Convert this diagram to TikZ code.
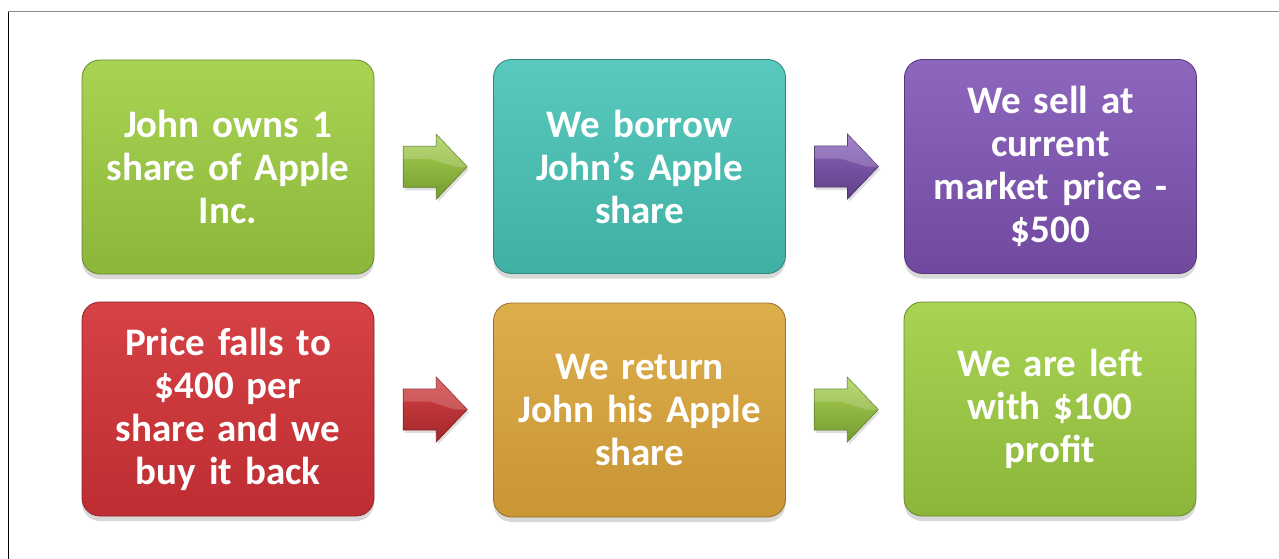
\documentclass[tikz,border=0pt]{standalone}
\usepackage{fontspec}
\setmainfont{Carlito}
\usetikzlibrary{shadows,calc}
\definecolor{gTop}{HTML}{A9D352}
\definecolor{gBot}{HTML}{8BB63A}
\definecolor{tTop}{HTML}{58C9BC}
\definecolor{tBot}{HTML}{3FB0A3}
\definecolor{pTop}{HTML}{8D67BE}
\definecolor{pBot}{HTML}{70499F}
\definecolor{rTop}{HTML}{D64245}
\definecolor{rBot}{HTML}{BD2D31}
\definecolor{oTop}{HTML}{DDAE4C}
\definecolor{oBot}{HTML}{C99535}
\tikzset{
  stepbox/.style={rounded corners=18pt, minimum width=292pt, minimum height=214pt,
    text width=280pt, align=center, inner sep=0pt,
    font=\fontsize{39}{43}\selectfont\bfseries, text=white,
    drop shadow={opacity=0.3, shadow xshift=0pt, shadow yshift=-5pt},
    top color=#1Top, bottom color=#1Bot, draw=#1Bot!75!black, line width=0.8pt},
  arrowfill/.style={top color=#1Top, bottom color=#1Bot!85!black,
    draw=#1Bot!70!black, line width=0.6pt, line join=miter,
    drop shadow={opacity=0.25, shadow xshift=1.5pt, shadow yshift=-3pt}},
  pics/flowarrow/.style={code={
    \path[arrowfill=#1] (-32,-20.5) -- (1,-20.5) -- (1,-32.5) -- (32,0)
      -- (1,32.5) -- (1,20.5) -- (-32,20.5) -- cycle;
    \fill[white,opacity=0.18] (-32,-20.5) -- (1,-20.5) -- (1,-32.5) -- (32,0)
      -- (20,0) -- (-6,-8) -- (-32,-8) -- cycle;
  }},
}
\begin{document}
\begin{tikzpicture}[x=1pt,y=-1pt]
\useasboundingbox (0,0) rectangle (1279,559);
\fill[white] (0,0) rectangle (1279,559);
\coordinate (fc) at (8,12);
\coordinate (ftr) at (1279,12);
\coordinate (fbl) at (8,559);
\draw[black!45, line width=1pt] (fc) -- (ftr);
\draw[black, line width=1pt] (fc) -- (fbl);

\node[stepbox=g] (b1) at (228,167) {John owns 1\\share of Apple\\Inc.};
\node[stepbox=t] (b2) at (639.5,166.5) {We borrow\\John's Apple\\share};
\node[stepbox=p] (b3) at (1050.5,166.5) {We sell at\\current\\market price -\\\$500};
\node[stepbox=r] (b4) at (228,409) {Price falls to\\\$400 per\\share and we\\buy it back};
\node[stepbox=o] (b5) at (639.5,410) {We return\\John his Apple\\share};
\node[stepbox=g] (b6) at (1050,409) {We are left\\with \$100\\profit};

\coordinate (a1) at ($(b1.east)!0.5!(b2.west)+(1.5,0)$);
\coordinate (a2) at ($(b2.east)!0.5!(b3.west)+(1.5,0)$);
\coordinate (a3) at ($(b4.east)!0.5!(b5.west)+(1.5,0)$);
\coordinate (a4) at ($(b5.east)!0.5!(b6.west)+(1.5,0)$);
\pic at (a1) {flowarrow=g};
\pic at (a2) {flowarrow=p};
\pic at (a3) {flowarrow=r};
\pic at (a4) {flowarrow=g};
\end{tikzpicture}
\end{document}
